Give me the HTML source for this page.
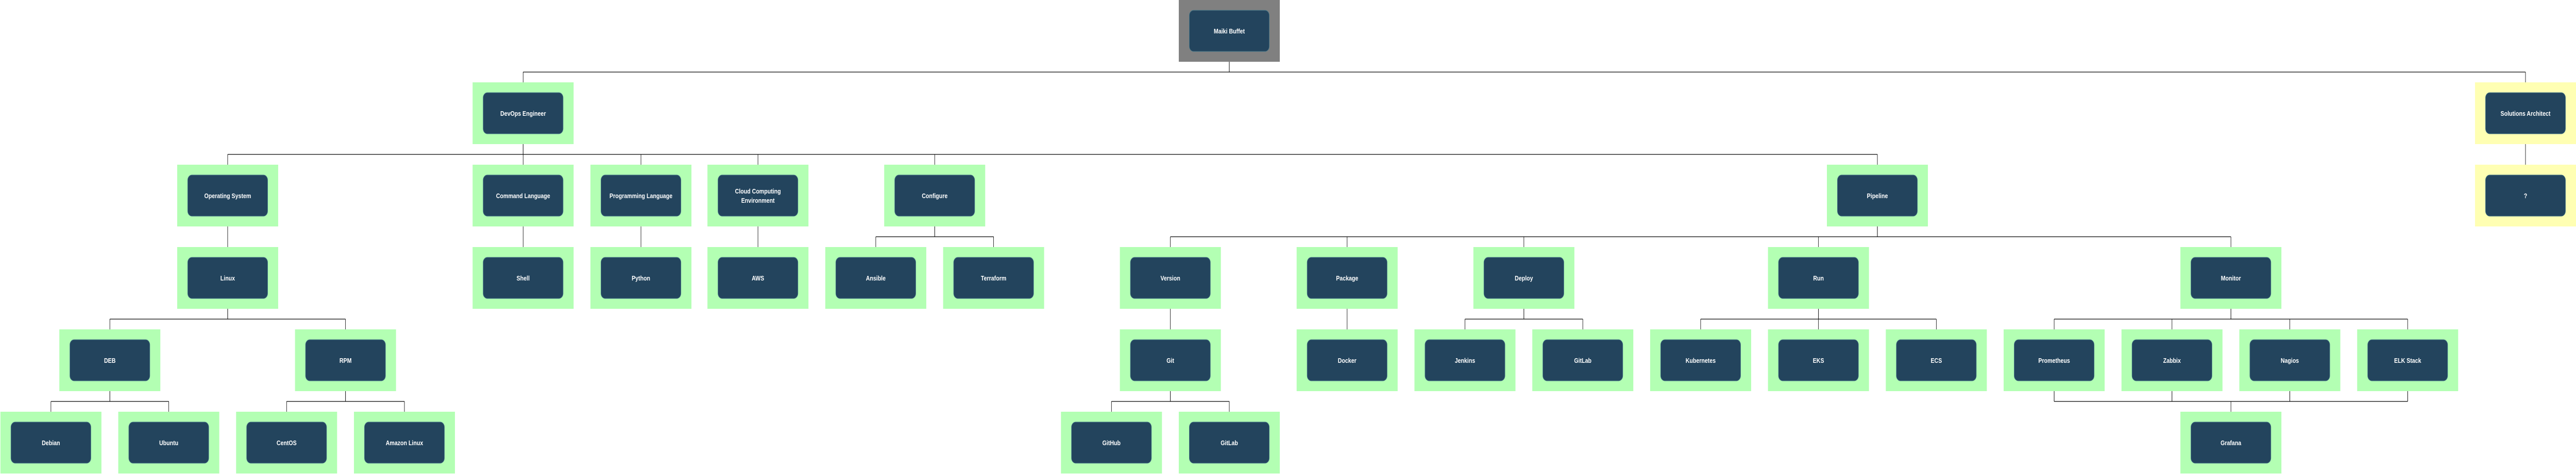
<!DOCTYPE html>
<html><head><meta charset="utf-8"><style>
html,body{margin:0;padding:0;background:#fff;width:100%;height:100%;overflow:hidden;}
svg{display:block;position:fixed;left:0;top:0;width:100vw;height:100vh;}
text{font-family:"Liberation Sans",sans-serif;font-weight:bold;font-size:13px;fill:#fff;text-anchor:middle;}
.g{fill:#b3ffb3;} .y{fill:#ffffb3;} .k{fill:#808080;}
.n{fill:#23445d;stroke:#4a7a8a;stroke-width:1;}
.l{stroke:#000;stroke-width:1.2;fill:none;}
.a{stroke:#000;stroke-width:1;fill:none;marker-end:url(#ar);}
</style></head><body>
<svg viewBox="0 0 6121 921" preserveAspectRatio="none" xmlns="http://www.w3.org/2000/svg">
<defs><marker id="ar" markerWidth="8" markerHeight="10" refX="4" refY="10" orient="auto" markerUnits="userSpaceOnUse" viewBox="0 0 8 10"><path d="M0,0 L4,10 L8,0 L4,3 Z" fill="#0d4a0d"/></marker></defs>

<path class="l" d="M2921 100V140M1243 140H6001"/>
<path class="a" d="M1243 140V178M6001 140V178"/>
<path class="l" d="M1243 260V300M541 300H4461"/>
<path class="a" d="M541 300V338M1243 300V338M1523 300V338M1801 300V338M2221 300V338M4461 300V338"/>
<path class="a" d="M6001 260V338"/>
<path class="a" d="M541 420V498M1243 420V498M1523 420V498M1801 420V498"/>
<path class="l" d="M2221 420V460M2081 460H2361"/>
<path class="a" d="M2081 460V498M2361 460V498"/>
<path class="l" d="M4461 420V460M2781 460H5301"/>
<path class="a" d="M2781 460V498M3201 460V498M3621 460V498M4321 460V498M5301 460V498"/>
<path class="l" d="M541 580V620M261 620H821"/>
<path class="a" d="M261 620V658M821 620V658"/>
<path class="a" d="M2781 580V658M3201 580V658"/>
<path class="l" d="M3621 580V620M3481 620H3761"/>
<path class="a" d="M3481 620V658M3761 620V658"/>
<path class="l" d="M4321 580V620M4041 620H4601"/>
<path class="a" d="M4041 620V658M4321 620V658M4601 620V658"/>
<path class="l" d="M5301 580V620M4881 620H5721"/>
<path class="a" d="M4881 620V658M5161 620V658M5441 620V658M5721 620V658"/>
<path class="l" d="M261 740V780M121 780H401"/>
<path class="a" d="M121 780V818M401 780V818"/>
<path class="l" d="M821 740V780M681 780H961"/>
<path class="a" d="M681 780V818M961 780V818"/>
<path class="l" d="M2781 740V780M2641 780H2921"/>
<path class="a" d="M2641 780V818M2921 780V818"/>
<path class="l" d="M4881 740V780M5161 740V780M5441 740V780M5721 740V780M4881 780H5721"/>
<path class="a" d="M5301 780V818"/>

<rect class="k" x="2801" y="0" width="240" height="120"/><rect class="n" x="2826" y="20" width="190" height="80" rx="10"/><text x="2921" y="65">Maiki Buffet</text>

<rect class="g" x="1123" y="160" width="240" height="120"/><rect class="n" x="1148" y="180" width="190" height="80" rx="10"/><text x="1243" y="225">DevOps Engineer</text>
<rect class="y" x="5881" y="160" width="240" height="120"/><rect class="n" x="5906" y="180" width="190" height="80" rx="10"/><text x="6001" y="225">Solutions Architect</text>

<rect class="g" x="421" y="320" width="240" height="120"/><rect class="n" x="446" y="340" width="190" height="80" rx="10"/><text x="541" y="385">Operating System</text>
<rect class="g" x="1123" y="320" width="240" height="120"/><rect class="n" x="1148" y="340" width="190" height="80" rx="10"/><text x="1243" y="385">Command Language</text>
<rect class="g" x="1403" y="320" width="240" height="120"/><rect class="n" x="1428" y="340" width="190" height="80" rx="10"/><text x="1523" y="385">Programming Language</text>
<rect class="g" x="1681" y="320" width="240" height="120"/><rect class="n" x="1706" y="340" width="190" height="80" rx="10"/><text x="1801" y="376">Cloud Computing</text><text x="1801" y="394">Environment</text>
<rect class="g" x="2101" y="320" width="240" height="120"/><rect class="n" x="2126" y="340" width="190" height="80" rx="10"/><text x="2221" y="385">Configure</text>
<rect class="g" x="4341" y="320" width="240" height="120"/><rect class="n" x="4366" y="340" width="190" height="80" rx="10"/><text x="4461" y="385">Pipeline</text>
<rect class="y" x="5881" y="320" width="240" height="120"/><rect class="n" x="5906" y="340" width="190" height="80" rx="10"/><text x="6001" y="385">?</text>

<rect class="g" x="421" y="480" width="240" height="120"/><rect class="n" x="446" y="500" width="190" height="80" rx="10"/><text x="541" y="545">Linux</text>
<rect class="g" x="1123" y="480" width="240" height="120"/><rect class="n" x="1148" y="500" width="190" height="80" rx="10"/><text x="1243" y="545">Shell</text>
<rect class="g" x="1403" y="480" width="240" height="120"/><rect class="n" x="1428" y="500" width="190" height="80" rx="10"/><text x="1523" y="545">Python</text>
<rect class="g" x="1681" y="480" width="240" height="120"/><rect class="n" x="1706" y="500" width="190" height="80" rx="10"/><text x="1801" y="545">AWS</text>
<rect class="g" x="1961" y="480" width="240" height="120"/><rect class="n" x="1986" y="500" width="190" height="80" rx="10"/><text x="2081" y="545">Ansible</text>
<rect class="g" x="2241" y="480" width="240" height="120"/><rect class="n" x="2266" y="500" width="190" height="80" rx="10"/><text x="2361" y="545">Terraform</text>
<rect class="g" x="2661" y="480" width="240" height="120"/><rect class="n" x="2686" y="500" width="190" height="80" rx="10"/><text x="2781" y="545">Version</text>
<rect class="g" x="3081" y="480" width="240" height="120"/><rect class="n" x="3106" y="500" width="190" height="80" rx="10"/><text x="3201" y="545">Package</text>
<rect class="g" x="3501" y="480" width="240" height="120"/><rect class="n" x="3526" y="500" width="190" height="80" rx="10"/><text x="3621" y="545">Deploy</text>
<rect class="g" x="4201" y="480" width="240" height="120"/><rect class="n" x="4226" y="500" width="190" height="80" rx="10"/><text x="4321" y="545">Run</text>
<rect class="g" x="5181" y="480" width="240" height="120"/><rect class="n" x="5206" y="500" width="190" height="80" rx="10"/><text x="5301" y="545">Monitor</text>

<rect class="g" x="141" y="640" width="240" height="120"/><rect class="n" x="166" y="660" width="190" height="80" rx="10"/><text x="261" y="705">DEB</text>
<rect class="g" x="701" y="640" width="240" height="120"/><rect class="n" x="726" y="660" width="190" height="80" rx="10"/><text x="821" y="705">RPM</text>
<rect class="g" x="2661" y="640" width="240" height="120"/><rect class="n" x="2686" y="660" width="190" height="80" rx="10"/><text x="2781" y="705">Git</text>
<rect class="g" x="3081" y="640" width="240" height="120"/><rect class="n" x="3106" y="660" width="190" height="80" rx="10"/><text x="3201" y="705">Docker</text>
<rect class="g" x="3361" y="640" width="240" height="120"/><rect class="n" x="3386" y="660" width="190" height="80" rx="10"/><text x="3481" y="705">Jenkins</text>
<rect class="g" x="3641" y="640" width="240" height="120"/><rect class="n" x="3666" y="660" width="190" height="80" rx="10"/><text x="3761" y="705">GitLab</text>
<rect class="g" x="3921" y="640" width="240" height="120"/><rect class="n" x="3946" y="660" width="190" height="80" rx="10"/><text x="4041" y="705">Kubernetes</text>
<rect class="g" x="4201" y="640" width="240" height="120"/><rect class="n" x="4226" y="660" width="190" height="80" rx="10"/><text x="4321" y="705">EKS</text>
<rect class="g" x="4481" y="640" width="240" height="120"/><rect class="n" x="4506" y="660" width="190" height="80" rx="10"/><text x="4601" y="705">ECS</text>
<rect class="g" x="4761" y="640" width="240" height="120"/><rect class="n" x="4786" y="660" width="190" height="80" rx="10"/><text x="4881" y="705">Prometheus</text>
<rect class="g" x="5041" y="640" width="240" height="120"/><rect class="n" x="5066" y="660" width="190" height="80" rx="10"/><text x="5161" y="705">Zabbix</text>
<rect class="g" x="5321" y="640" width="240" height="120"/><rect class="n" x="5346" y="660" width="190" height="80" rx="10"/><text x="5441" y="705">Nagios</text>
<rect class="g" x="5601" y="640" width="240" height="120"/><rect class="n" x="5626" y="660" width="190" height="80" rx="10"/><text x="5721" y="705">ELK Stack</text>

<rect class="g" x="1" y="800" width="240" height="120"/><rect class="n" x="26" y="820" width="190" height="80" rx="10"/><text x="121" y="865">Debian</text>
<rect class="g" x="281" y="800" width="240" height="120"/><rect class="n" x="306" y="820" width="190" height="80" rx="10"/><text x="401" y="865">Ubuntu</text>
<rect class="g" x="561" y="800" width="240" height="120"/><rect class="n" x="586" y="820" width="190" height="80" rx="10"/><text x="681" y="865">CentOS</text>
<rect class="g" x="841" y="800" width="240" height="120"/><rect class="n" x="866" y="820" width="190" height="80" rx="10"/><text x="961" y="865">Amazon Linux</text>
<rect class="g" x="2521" y="800" width="240" height="120"/><rect class="n" x="2546" y="820" width="190" height="80" rx="10"/><text x="2641" y="865">GitHub</text>
<rect class="g" x="2801" y="800" width="240" height="120"/><rect class="n" x="2826" y="820" width="190" height="80" rx="10"/><text x="2921" y="865">GitLab</text>
<rect class="g" x="5181" y="800" width="240" height="120"/><rect class="n" x="5206" y="820" width="190" height="80" rx="10"/><text x="5301" y="865">Grafana</text>
</svg>
</body></html>
